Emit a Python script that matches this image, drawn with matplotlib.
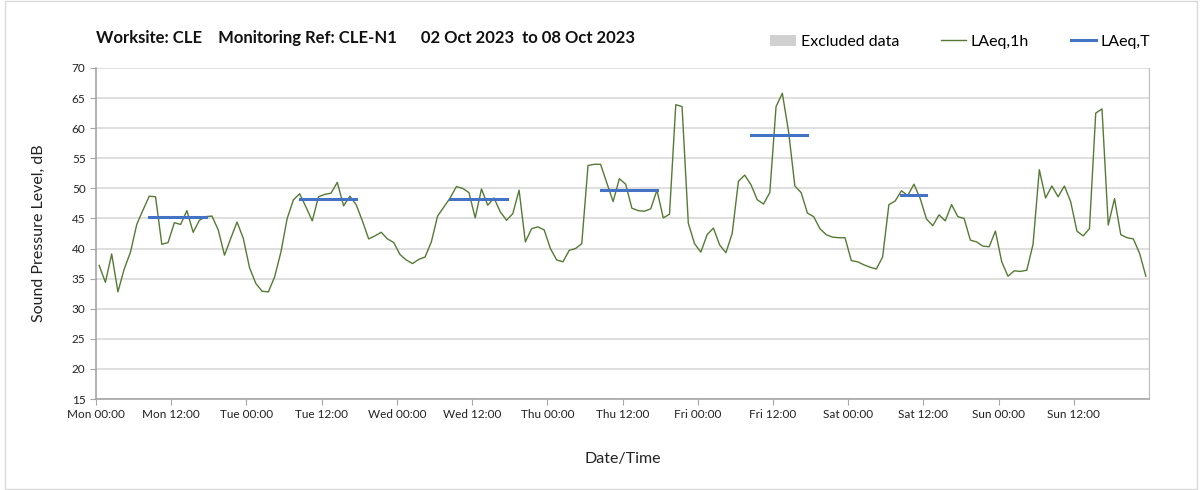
import matplotlib.pyplot as plt
from matplotlib.patches import Patch, Rectangle
from matplotlib.lines import Line2D
import numpy as np

plt.rcParams['font.family'] = ['Lato', 'DejaVu Sans']

# hourly LAeq,1h from Mon 00:00 to Sun 23:00
laeq_1h = [
    37.2, 34.4, 39.1, 32.8, 36.6, 39.4, 44.0, 46.4, 48.7, 48.6, 40.7, 41.0,
    44.3, 44.0, 46.3, 42.7, 44.7, 45.3, 45.4, 43.1, 38.9, 41.7, 44.4, 41.7,
    36.8, 34.2, 32.9, 32.8, 35.3, 39.4, 45.0, 48.1, 49.1, 46.9, 44.6, 48.6,
    49.0, 49.2, 51.0, 47.1, 48.7, 47.3, 44.6, 41.6, 42.1, 42.7, 41.6, 41.0,
    39.0, 38.1, 37.5, 38.2, 38.6, 41.1, 45.4, 46.9, 48.4, 50.3, 50.0, 49.3,
    45.1, 49.9, 47.2, 48.4, 46.1, 44.7, 45.8, 49.7, 41.1, 43.3, 43.6, 43.1,
    40.0, 38.1, 37.8, 39.7, 40.0, 40.8, 53.8, 54.0, 54.0, 50.9, 47.8, 51.6,
    50.7, 46.7, 46.3, 46.2, 46.6, 49.7, 45.1, 45.7, 63.9, 63.6, 44.2, 40.8,
    39.4, 42.3, 43.4, 40.6, 39.3, 42.5, 51.2, 52.2, 50.6, 48.1, 47.4, 49.3,
    63.6, 65.8, 59.4, 50.4, 49.3, 45.9, 45.3, 43.3, 42.3, 41.9, 41.8, 41.8,
    38.0, 37.8, 37.3, 36.9, 36.6, 38.6, 47.3, 47.9, 49.6, 48.8, 50.7, 48.3,
    44.9, 43.8, 45.6, 44.6, 47.3, 45.3, 45.0, 41.4, 41.1, 40.4, 40.3, 42.9,
    37.8, 35.4, 36.3, 36.2, 36.4, 40.7, 53.1, 48.4, 50.4, 48.6, 50.4, 47.8,
    42.9, 42.1, 43.3, 62.5, 63.2, 43.9, 48.3, 42.3, 41.8, 41.6, 39.2, 35.4,
]

days = ["Mon", "Tue", "Wed", "Thu", "Fri", "Sat", "Sun"]

# LAeq,T over the working period of each day (no work on Sunday)
laeq_t = [45.3, 48.3, 48.3, 49.8, 58.9, 48.9]
period_start = [8, 8, 8, 8, 8, 8]
period_end = [18, 18, 18, 18, 18, 13]

hours = np.arange(len(laeq_1h)) + 0.5

fig = plt.figure(figsize=(12.03, 4.90), dpi=100)
ax = fig.add_axes([96/1203, 1 - 399/490, (1149 - 96)/1203, (399 - 68)/490])

green = "#557a35"
blue = "#4472c4"

ax.plot(hours, laeq_1h, color=green, lw=1.0)
for d, val in enumerate(laeq_t):
    x0 = d*24 + period_start[d] + 0.5
    x1 = d*24 + period_end[d] - 0.5
    ax.plot([x0, x1], [val, val], color=blue, lw=2.2, solid_capstyle="projecting")

ax.set_xlim(0, 168)
ax.set_ylim(15, 70)
ax.set_yticks(np.arange(15, 71, 5))
ax.set_xticks(np.arange(0, 168, 12))
ax.set_xticklabels([f"{days[i//2]} {'00:00' if i % 2 == 0 else '12:00'}" for i in range(14)])
ax.set_xticks(np.arange(24, 169, 24), minor=True)

ax.grid(axis="y", color="#d9d9d9", lw=1.2)
ax.grid(axis="x", which="minor", color="#e3e3e3", lw=1.0)
ax.tick_params(axis="x", which="minor", length=0)
ax.tick_params(axis="both", which="major", labelsize=8.5, color="#a6a6a6",
               labelcolor="#222222", length=4)
for s in ["left", "bottom"]:
    ax.spines[s].set_color("#a6a6a6")
    ax.spines[s].set_linewidth(1.2)
ax.spines["top"].set_visible(False)
ax.spines["right"].set_color("#bfbfbf")
ax.set_axisbelow(True)

ax.set_ylabel("Sound Pressure Level, dB", fontsize=11.5, color="#222222", labelpad=19)
ax.set_xlabel("Date/Time", fontsize=11.5, color="#222222", labelpad=23)

fig.text(96/1203, 1 - 38/490, "Worksite: CLE    Monitoring Ref: CLE-N1      02 Oct 2023  to 08 Oct 2023",
         fontsize=12, fontweight="bold", va="center", ha="left", color="#111111")

handles = [
    Patch(facecolor="#d0d0d0", edgecolor="none"),
    Line2D([], [], color=green, lw=1.0),
    Line2D([], [], color=blue, lw=2.2),
]
fig.legend(handles, ["Excluded data", "LAeq,1h", "LAeq,T"], ncol=3, frameon=False,
           loc="center right", bbox_to_anchor=(1165/1203, 1 - 42/490), fontsize=11.5,
           handlelength=1.6, handletextpad=0.3, columnspacing=2.6)

fig.patches.append(Rectangle((5/1203, 0.002), 1192/1203, 0.996, transform=fig.transFigure,
                             fill=False, edgecolor="#d9d9d9", lw=1.0))

fig.savefig("out.png", dpi=100)
